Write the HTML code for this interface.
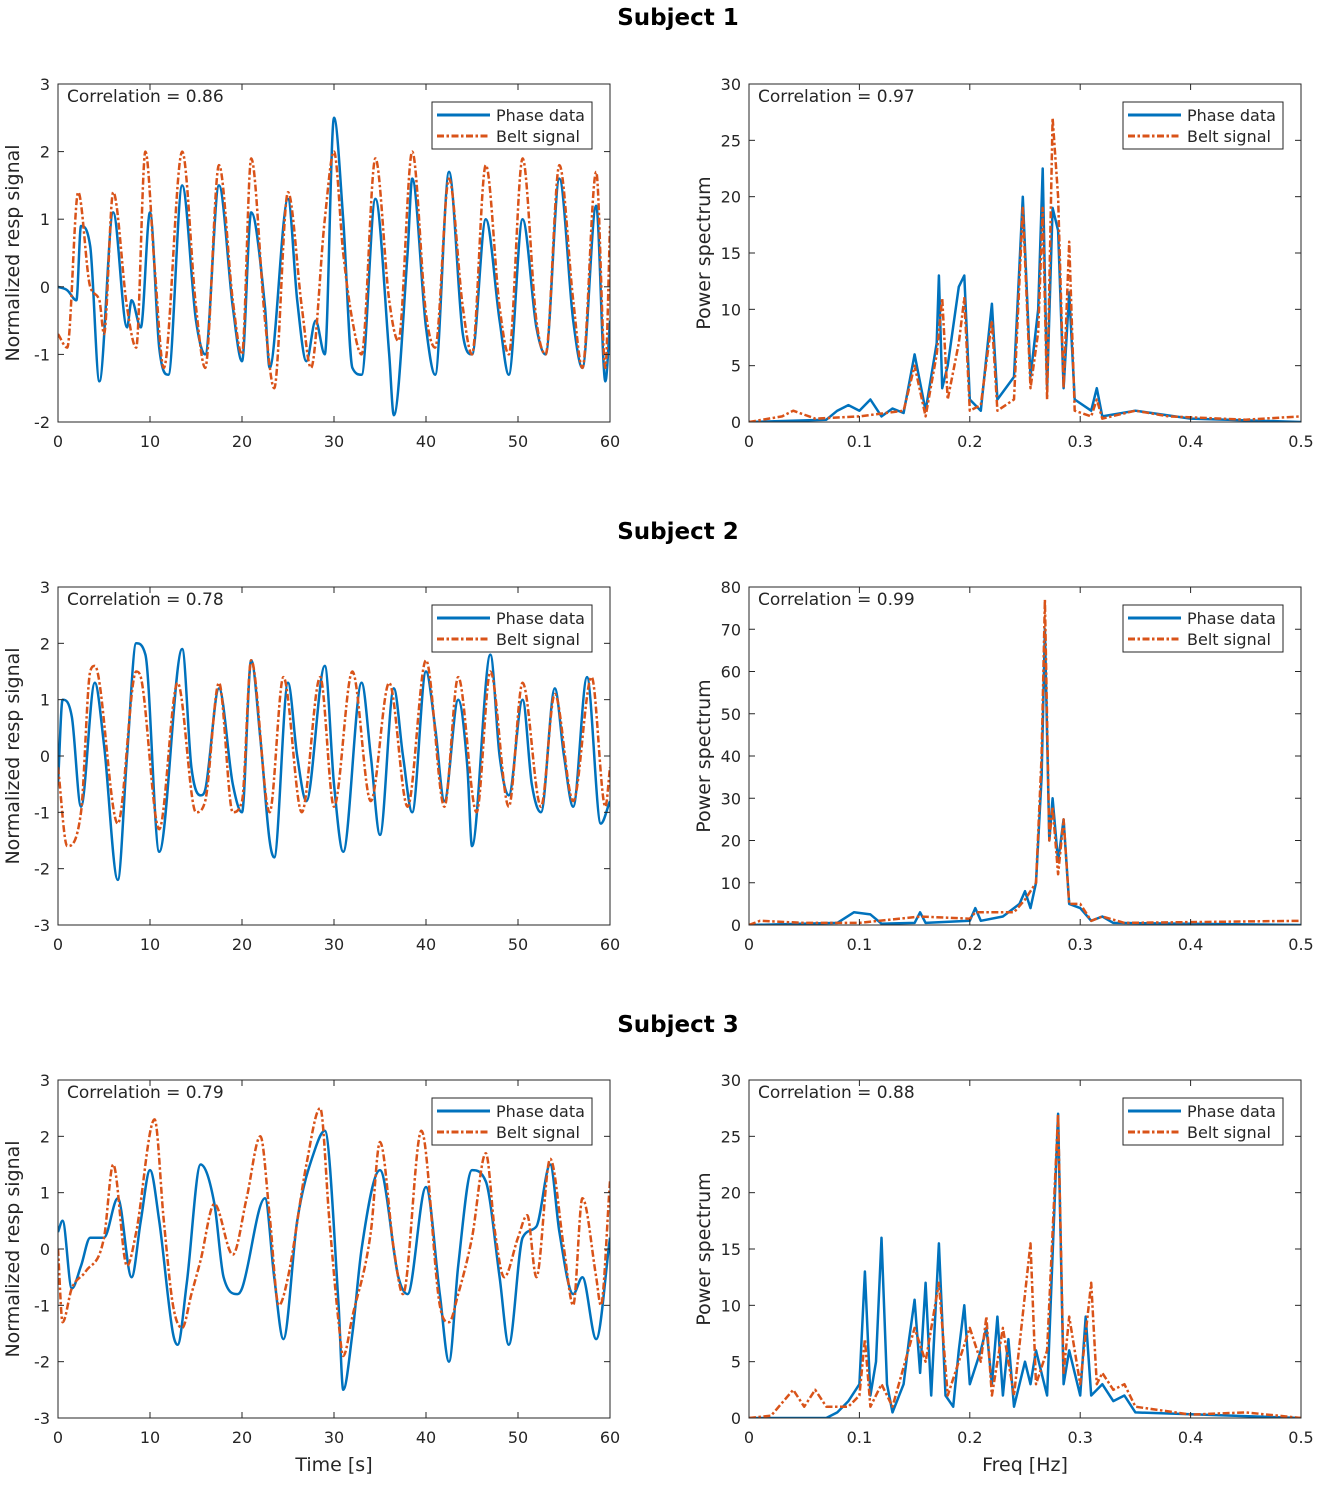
<!DOCTYPE html>
<html><head><meta charset="utf-8"><style>
body{margin:0;background:#fff;width:1330px;height:1488px;overflow:hidden}
svg{font-family:"DejaVu Sans","Liberation Sans",sans-serif}
</style></head><body>
<svg id="fig" width="1330" height="1488" xmlns="http://www.w3.org/2000/svg"></svg>
<script>
// ---- data (time series: [t, value]; spectra: [freq, power]) ----
const s1Phase=[[0,0],[1,-0.05],[2,-0.2],[2.5,0.9],[3.5,0.6],[4.5,-1.4],[6,1.1],[7.5,-0.6],[8,-0.2],[9,-0.6],[10,1.1],[11,-0.9],[12,-1.3],[13.5,1.5],[15,-0.5],[16,-1],[17.5,1.5],[19,-0.3],[20,-1.1],[21,1.1],[22.5,-0.3],[23,-1.2],[25,1.3],[26,-0.2],[27,-1.1],[28,-0.5],[29,-1.0],[30,2.5],[31,1],[32,-1.2],[33,-1.3],[34.5,1.3],[36,-1.0],[36.5,-1.9],[38,0.5],[38.5,1.6],[40,-0.6],[41,-1.3],[42.5,1.7],[44,-0.7],[45,-1.0],[46.5,1.0],[48,-0.5],[49,-1.3],[50.5,1.0],[52,-0.6],[53,-1.0],[54.5,1.6],[56,-0.5],[57,-1.2],[58.5,1.2],[59.5,-1.4],[60,-0.5]];
const s1Belt=[[0,-0.7],[1,-0.9],[2.2,1.4],[3.5,0],[4.5,-0.2],[5,-0.7],[6,1.4],[7.5,-0.3],[8.5,-0.9],[9.5,2.0],[10.5,0.3],[11.5,-1.2],[13.5,2.0],[15,-0.3],[16,-1.2],[17.5,1.8],[19,-0.2],[20,-1.0],[21,1.9],[22.5,-0.5],[23.5,-1.5],[25,1.4],[26.5,-0.3],[27.5,-1.2],[29,1.0],[30,2.0],[31,0.5],[32,-0.5],[33,-1.0],[34.5,1.9],[36,-0.2],[37,-0.8],[38.5,2.0],[40,-0.4],[41,-0.9],[42.5,1.6],[44,-0.3],[45,-1.0],[46.5,1.8],[48,-0.3],[49,-1.0],[50.5,1.9],[52,-0.5],[53,-1.0],[54.5,1.8],[56,-0.2],[57,-1.2],[58.5,1.7],[59.5,-1.2],[60,0.9]];
const s2Phase=[[0,-0.5],[0.5,1.0],[1.5,0.7],[2.5,-0.9],[4,1.3],[5,0.2],[6.5,-2.2],[7.5,0],[8.5,2.0],[9.5,1.8],[11,-1.7],[13.5,1.9],[14.5,-0.2],[15.5,-0.7],[16,-0.6],[17.5,1.2],[19,-0.5],[20,-1.0],[21,1.7],[22,0.3],[23,-1.5],[23.5,-1.8],[25,1.3],[26,0],[27,-0.8],[29,1.6],[30,-0.5],[31,-1.7],[33,1.3],[34,0],[35,-1.4],[36.5,1.2],[37.5,0],[38.5,-1.0],[40,1.5],[41,0.5],[42,-0.8],[43.5,1.0],[44.5,-0.2],[45,-1.6],[47,1.8],[48,0],[49,-0.7],[50.5,1.0],[51.5,-0.5],[52.5,-1.0],[54,1.2],[55,0],[56,-0.9],[57.5,1.4],[59,-1.2],[60,-0.8]];
const s2Belt=[[0,-0.2],[1,-1.6],[2.5,-1.0],[3.5,1.5],[4,1.6],[6.5,-1.2],[8.5,1.5],[9,1.4],[11,-1.3],[13,1.3],[15,-1.0],[16,-0.8],[17.5,1.3],[19,-1.0],[20,-0.8],[21,1.7],[23,-1.0],[24.5,1.4],[26.5,-1.0],[28.5,1.4],[30,-0.9],[32,1.5],[34,-0.8],[36,1.3],[38,-0.9],[40,1.7],[42,-0.9],[43.5,1.4],[45.5,-1.0],[47,1.5],[49,-0.9],[50.5,1.3],[52.5,-0.9],[54,1.1],[56,-0.8],[58,1.4],[59.5,-0.9],[60,-0.2]];
const s3Phase=[[0,0.3],[0.5,0.5],[1.5,-0.7],[2.5,-0.3],[3.5,0.2],[5,0.2],[6.5,0.9],[8,-0.5],[9,0.5],[10,1.4],[11,0.5],[12.5,-1.5],[13,-1.7],[14,-0.6],[15.5,1.5],[17,0.8],[18,-0.5],[19.5,-0.8],[20,-0.7],[22.5,0.9],[23.5,-0.5],[24.5,-1.6],[26,0.5],[28,1.8],[29,2.1],[30.5,-1.0],[31,-2.5],[32,-1.5],[33,0],[35,1.4],[37,-0.5],[38,-0.8],[40,1.1],[41.5,-0.8],[42.5,-2.0],[43.5,-0.3],[45,1.4],[46.5,1.2],[48,-0.5],[49,-1.7],[50.5,0.2],[52,0.4],[53.5,1.5],[54.5,0.3],[56,-0.8],[57,-0.5],[58.5,-1.6],[60,0.2]];
const s3Belt=[[0,0],[0.5,-1.3],[1.5,-0.7],[3,-0.4],[5,0.2],[6,1.5],[7.5,-0.3],[8.5,0.3],[10.5,2.3],[11.5,0.5],[12.5,-1.0],[13.5,-1.4],[14.5,-0.8],[15.5,-0.2],[17,0.8],[19,-0.1],[20.5,0.9],[22,2.0],[23,0.6],[24,-1.0],[25,-0.5],[27,1.5],[28.5,2.5],[29.5,0.5],[30.5,-1.3],[31,-1.9],[32,-1.2],[34,0.3],[35,1.9],[36.5,0],[37.5,-0.8],[39.5,2.1],[41.5,-1.0],[42.5,-1.3],[43.5,-0.8],[45,0.2],[46.5,1.7],[47.5,0.3],[48.5,-0.5],[50,0.2],[51,0.6],[52,-0.5],[53.5,1.6],[55,0],[56,-1.0],[57,0.9],[58.5,-0.5],[59,-1.0],[60,1.2]];
const p1Phase=[[0,0],[0.07,0.2],[0.08,1],[0.09,1.5],[0.1,1],[0.11,2],[0.12,0.5],[0.13,1.2],[0.14,0.8],[0.15,6],[0.16,1],[0.17,7],[0.172,13],[0.175,3],[0.18,5],[0.19,12],[0.195,13],[0.2,2],[0.21,1],[0.22,10.5],[0.225,2],[0.24,4],[0.248,20],[0.255,4],[0.262,10],[0.266,22.5],[0.27,3],[0.275,19],[0.28,17],[0.285,3],[0.29,11.5],[0.295,2],[0.31,1],[0.315,3],[0.32,0.5],[0.35,1],[0.4,0.3],[0.5,0]];
const p1Belt=[[0,0],[0.03,0.5],[0.04,1],[0.06,0.3],[0.1,0.5],[0.14,1],[0.15,5],[0.16,0.5],[0.17,6],[0.175,11],[0.18,2],[0.19,7],[0.195,11],[0.2,1],[0.21,1.5],[0.22,9],[0.225,1],[0.24,2],[0.248,19],[0.255,3],[0.262,8],[0.266,19],[0.27,2],[0.275,27],[0.28,20],[0.285,3],[0.29,16],[0.295,1],[0.31,0.5],[0.315,2],[0.32,0.3],[0.35,1],[0.38,0.5],[0.45,0.2],[0.5,0.5]];
const p2Phase=[[0,0],[0.08,0.5],[0.095,3],[0.11,2.5],[0.12,0.3],[0.15,0.5],[0.155,3],[0.16,0.5],[0.2,1],[0.205,4],[0.21,1],[0.23,2],[0.245,5],[0.25,8],[0.255,4],[0.26,10],[0.265,35],[0.268,70],[0.272,20],[0.275,30],[0.28,15],[0.285,25],[0.29,5],[0.3,4],[0.31,1],[0.32,2],[0.33,0.5],[0.5,0]];
const p2Belt=[[0,0],[0.01,1],[0.05,0.5],[0.1,0.5],[0.155,2],[0.2,1.5],[0.205,3],[0.24,3],[0.25,6],[0.26,10],[0.265,40],[0.268,77],[0.272,20],[0.275,28],[0.28,12],[0.285,25],[0.29,5],[0.3,5],[0.31,1],[0.32,2],[0.34,0.5],[0.5,1]];
const p3Phase=[[0,0],[0.07,0],[0.08,0.5],[0.09,1.5],[0.1,3],[0.105,13],[0.11,2],[0.115,5],[0.12,16],[0.125,3],[0.13,0.5],[0.14,3],[0.145,7],[0.15,10.5],[0.155,4],[0.16,12],[0.165,2],[0.172,15.5],[0.178,2],[0.185,1],[0.19,6],[0.195,10],[0.2,3],[0.21,6],[0.215,8],[0.22,3],[0.225,9],[0.23,2],[0.235,7],[0.24,1],[0.25,5],[0.255,3],[0.26,6],[0.27,2],[0.28,27],[0.285,3],[0.29,6],[0.3,2],[0.305,9],[0.31,2],[0.32,3],[0.33,1.5],[0.34,2],[0.35,0.5],[0.5,0]];
const p3Belt=[[0,0],[0.02,0.2],[0.04,2.5],[0.05,1],[0.06,2.5],[0.07,1],[0.09,1],[0.1,2],[0.105,7],[0.11,1],[0.12,3],[0.13,1],[0.15,8],[0.16,5],[0.172,12],[0.18,2],[0.19,5],[0.2,8],[0.21,5],[0.215,9],[0.22,2],[0.23,8],[0.24,2],[0.255,15.5],[0.26,3],[0.27,6],[0.28,27],[0.285,4],[0.29,9],[0.3,3],[0.31,12],[0.315,3],[0.32,4],[0.33,2.5],[0.34,3],[0.35,1],[0.4,0.3],[0.45,0.5],[0.5,0]];
const timeTicks=[0,10,20,30,40,50,60];
const freqTicks=[0,0.1,0.2,0.3,0.4,0.5];
const corrLeft=["0.86","0.78","0.79"];
const corrRight=["0.97","0.99","0.88"];

const NS="http://www.w3.org/2000/svg";
const svg=document.getElementById('fig');
function el(tag,attrs,parent,text){const e=document.createElementNS(NS,tag);for(const k in attrs)e.setAttribute(k,attrs[k]);if(text!==undefined)e.textContent=text;(parent||svg).appendChild(e);return e;}
const BLUE="#0072BD",ORANGE="#D95319";

// monotone cubic (Fritsch-Carlson) path through pixel points
function smoothPath(P){
  const n=P.length;if(n<2)return '';
  const d=[],m=[];
  for(let i=0;i<n-1;i++)d.push((P[i+1][1]-P[i][1])/(P[i+1][0]-P[i][0]));
  m[0]=d[0];m[n-1]=d[n-2];
  for(let i=1;i<n-1;i++){m[i]=(d[i-1]*d[i]<=0)?0:(d[i-1]+d[i])/2;}
  for(let i=0;i<n-1;i++){if(d[i]===0){m[i]=0;m[i+1]=0;continue;}
    const a=m[i]/d[i],b=m[i+1]/d[i],s=a*a+b*b;if(s>9){const t=3/Math.sqrt(s);m[i]=t*a*d[i];m[i+1]=t*b*d[i];}}
  let s='M'+P[0][0].toFixed(1)+','+P[0][1].toFixed(1);
  for(let i=0;i<n-1;i++){const h=(P[i+1][0]-P[i][0])/3;
    s+=' C'+(P[i][0]+h).toFixed(1)+','+(P[i][1]+m[i]*h).toFixed(1)+' '+(P[i+1][0]-h).toFixed(1)+','+(P[i+1][1]-m[i+1]*h).toFixed(1)+' '+P[i+1][0].toFixed(1)+','+P[i+1][1].toFixed(1);}
  return s;
}

function axes(name,x0,x1,y0,y1,xmin,xmax,ymin,ymax,xt,yt,ylabel,xlabel,corr,series,smooth){
  const g=el('g',{});
  
  
  const sx=v=>x0+(v-xmin)/(xmax-xmin)*(x1-x0);
  const sy=v=>y1-(v-ymin)/(ymax-ymin)*(y1-y0);
  el('rect',{x:x0,y:y0,width:x1-x0,height:y1-y0,fill:'#fff',stroke:'none'},g);
  const cid='c'+name;
  const cp=el('clipPath',{id:cid},g);el('rect',{x:x0,y:y0,width:x1-x0,height:y1-y0},cp);
  series.forEach(s=>{
    const P=s.data.map(p=>[sx(p[0]),sy(p[1])]);
    let pl;
    if(smooth) pl=el('path',{d:smoothPath(P),fill:'none',stroke:s.color,'stroke-width':2.5,'stroke-linejoin':'round','clip-path':'url(#'+cid+')'},g);
    else pl=el('polyline',{points:P.map(p=>p[0].toFixed(1)+','+p[1].toFixed(1)).join(' '),fill:'none',stroke:s.color,'stroke-width':2.5,'stroke-linejoin':'round','clip-path':'url(#'+cid+')'},g);
    if(s.dash)pl.setAttribute('stroke-dasharray','7,2.5,2.5,2.5');
    
    
  });
  el('rect',{x:x0,y:y0,width:x1-x0,height:y1-y0,fill:'none',stroke:'#262626','stroke-width':1},g);
  const tl=6;
  xt.forEach(v=>{const x=sx(v);
    el('line',{x1:x,y1:y1,x2:x,y2:y1-tl,stroke:'#262626'},g);
    el('line',{x1:x,y1:y0,x2:x,y2:y0+tl,stroke:'#262626'},g);
    const t=el('text',{x:x,y:y1+25,'text-anchor':'middle','font-size':16,fill:'#262626'},g,String(v));
    });
  yt.forEach(v=>{const y=sy(v);
    el('line',{x1:x0,y1:y,x2:x0+tl,y2:y,stroke:'#262626'},g);
    el('line',{x1:x1,y1:y,x2:x1-tl,y2:y,stroke:'#262626'},g);
    const t=el('text',{x:x0-8,y:y+6,'text-anchor':'end','font-size':16,fill:'#262626'},g,String(v));
    });
  const yl=el('text',{x:0,y:0,transform:`translate(${x0-39},${(y0+y1)/2}) rotate(-90)`,'text-anchor':'middle','font-size':19,fill:'#262626'},g,ylabel);
  
  if(xlabel){const xl=el('text',{x:(x0+x1)/2,y:y1+53,'text-anchor':'middle','font-size':19,fill:'#262626'},g,xlabel);
    }
  const ct=el('text',{x:x0+9,y:y0+18,'font-size':17,fill:'#262626'},g,'Correlation = '+corr);
  
  const lg=el('g',{},g);
  
  const lx=x1-178,ly=y0+18;
  el('rect',{x:lx,y:ly,width:160,height:47,fill:'#fff',stroke:'#262626'},lg);
  el('line',{x1:lx+5,y1:ly+13,x2:lx+58,y2:ly+13,stroke:BLUE,'stroke-width':3},lg);
  el('line',{x1:lx+5,y1:ly+34,x2:lx+58,y2:ly+34,stroke:ORANGE,'stroke-width':3,'stroke-dasharray':'7,2.5,2.5,2.5'},lg);
  el('text',{x:lx+64,y:ly+19,'font-size':16,fill:'#262626'},lg,'Phase data');
  el('text',{x:lx+64,y:ly+40,'font-size':16,fill:'#262626'},lg,'Belt signal');
}
const rows=[{y0:84,y1:422,title:'Subject 1',ty:25,lp:s1Phase,lb:s1Belt,ly:[-2,-1,0,1,2,3],lmin:-2,lmax:3,rp:p1Phase,rb:p1Belt,rmax:30,rt:[0,5,10,15,20,25,30]},
 {y0:587,y1:925,title:'Subject 2',ty:539,lp:s2Phase,lb:s2Belt,ly:[-3,-2,-1,0,1,2,3],lmin:-3,lmax:3,rp:p2Phase,rb:p2Belt,rmax:80,rt:[0,10,20,30,40,50,60,70,80]},
 {y0:1080,y1:1418,title:'Subject 3',ty:1032,lp:s3Phase,lb:s3Belt,ly:[-3,-2,-1,0,1,2,3],lmin:-3,lmax:3,rp:p3Phase,rb:p3Belt,rmax:30,rt:[0,5,10,15,20,25,30]}];
rows.forEach((r,i)=>{
  const t=el('text',{x:678,y:r.ty,'text-anchor':'middle','font-size':23,'font-weight':'bold',fill:'#000'},svg,r.title);
  
  axes('time-plot-'+(i+1),58,610,r.y0,r.y1,0,60,r.lmin,r.lmax,timeTicks,r.ly,'Normalized resp signal',i==2?'Time [s]':null,corrLeft[i],
    [{data:r.lp,color:BLUE,name:'phase-data-line'},{data:r.lb,color:ORANGE,dash:true,name:'belt-signal-line'}],true);
  axes('spectrum-plot-'+(i+1),749,1301,r.y0,r.y1,0,0.5,0,r.rmax,freqTicks,r.rt,'Power spectrum',i==2?'Freq [Hz]':null,corrRight[i],
    [{data:r.rp,color:BLUE,name:'phase-spectrum-line'},{data:r.rb,color:ORANGE,dash:true,name:'belt-spectrum-line'}],false);
});
</script>
</body></html>
